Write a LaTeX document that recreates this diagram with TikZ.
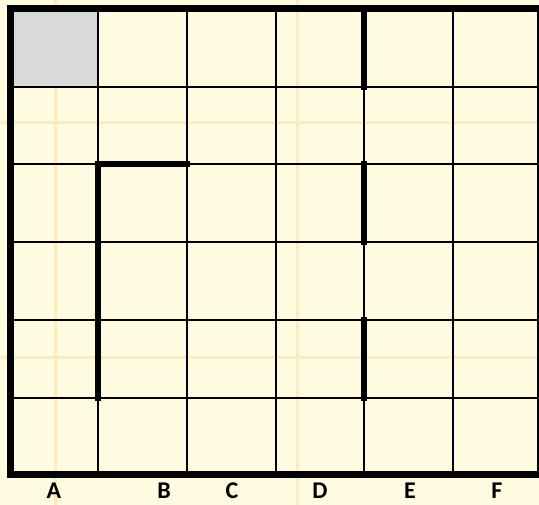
\documentclass[tikz,border=0pt]{standalone}
\usepackage{fontspec}
\setsansfont{Carlito}
\definecolor{paper}{HTML}{FEFBE1}
\definecolor{faint}{HTML}{FBEBC2}
\definecolor{start}{HTML}{D9D9D9}
\tikzset{
  gridline/.style={line width=2pt,black},
  wall/.style={line width=6.5pt,black,line cap=rect,line join=miter},
  border/.style={line width=7pt,black,line join=miter},
  collabel/.style={font=\sffamily\bfseries\fontsize{24}{24}\selectfont,inner sep=1pt}
}

\begin{document}
\begin{tikzpicture}[x=1pt,y=-1pt]
  \useasboundingbox (0,0) rectangle (539,505);
  \fill[paper] (0,0) rectangle (539,505);
  % faint paper lines behind the board
  \foreach \x in {55,297} { \draw[faint,line width=3pt] (\x,0) -- (\x,505); }
  \foreach \y in {123,358} { \draw[faint,line width=3pt] (0,\y) -- (539,\y); }
  % start cell
  \fill[start] (10,9) rectangle (98,87);
  % grid
  \foreach \x in {98,187,276,364,453} { \draw[gridline] (\x,9) -- (\x,475); }
  \foreach \y in {87,164,242,320,398} { \draw[gridline] (10,\y) -- (539,\y); }
  % walls
  \draw[wall] (187,164) -- (98,164) -- (98,398);
  \foreach \ya/\yb in {9/87,164/242,320/398} { \draw[wall] (364,\ya) -- (364,\yb); }
  \draw[border] (539,475) -- (10,475) -- (10,9) -- (539,9);
  \draw[gridline] (538,9) -- (538,475);
  % column letters
  \foreach \lab/\x in {A/54,B/164,C/232,D/320,E/410,F/497} {
    \node[collabel] (col\lab) at (\x,491) {\lab};
  }
\end{tikzpicture}
\end{document}
